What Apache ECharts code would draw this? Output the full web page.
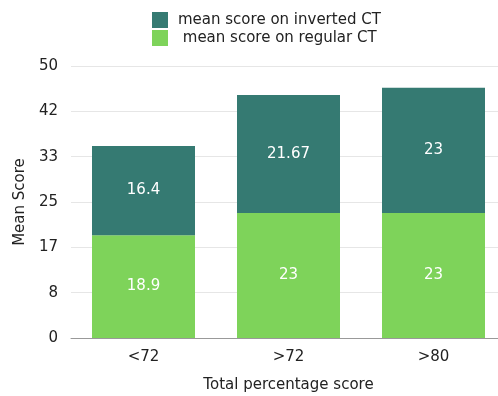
<!DOCTYPE html>
<html><head><meta charset="utf-8">
<script src="https://cdn.jsdelivr.net/npm/echarts@6/dist/echarts.min.js"></script>
<style>html,body{margin:0;padding:0;background:#fff}#c{width:498px;height:396px}</style>
</head><body><div id="c"></div>
<script>
var categories = ['<72', '>72', '>80'];
var regularScores = [18.9, 23, 23];
var invertedScores = [16.4, 21.67, 23];
var seriesNames = ['mean score on inverted CT', ' mean score on regular CT'];
var yTickLabels = ['0', '8', '17', '25', '33', '42', '50'];

var chart = echarts.init(document.getElementById('c'), null, {renderer: 'canvas'});
var font = '"DejaVu Sans", sans-serif';
var labelStyle = {show: true, position: 'inside', color: '#ffffff', fontSize: 15, fontFamily: font};
chart.setOption({
  animation: false,
  legend: {
    orient: 'vertical', left: 147, top: 7, itemWidth: 16, itemHeight: 16, itemGap: 2,
    icon: 'rect',
    textStyle: {fontSize: 15, color: '#222', fontFamily: font, padding: [0, 0, 0, 5]},
    data: [seriesNames[0], seriesNames[1]]
  },
  grid: {left: 71, width: 435, top: 66, bottom: 58, outerBoundsMode: 'none', containLabel: false},
  xAxis: {
    type: 'category', data: categories,
    name: 'Total percentage score', nameLocation: 'middle', nameGap: 40,
    nameTextStyle: {fontSize: 15, color: '#222', fontFamily: font},
    axisTick: {show: false},
    axisLine: {lineStyle: {color: '#999'}},
    axisLabel: {fontSize: 15, color: '#222', fontFamily: font, margin: 12}
  },
  yAxis: {
    type: 'value', min: 0, max: 50, interval: 50 / 6,
    name: 'Mean Score', nameLocation: 'middle', nameGap: 43,
    nameTextStyle: {fontSize: 15, color: '#222', fontFamily: font},
    axisLine: {show: false}, axisTick: {show: false},
    axisLabel: {fontSize: 15, color: '#222', fontFamily: font, margin: 13,
      formatter: function (v) { return yTickLabels[Math.round(v / (50 / 6))]; }},
    splitLine: {lineStyle: {color: '#e6e6e6'}}
  },
  series: [
    {name: seriesNames[1], type: 'bar', stack: 's', data: regularScores, barWidth: 103,
     itemStyle: {color: '#7ed35a'}, label: labelStyle},
    {name: seriesNames[0], type: 'bar', stack: 's', data: invertedScores, barWidth: 103,
     itemStyle: {color: '#357a72'}, label: labelStyle}
  ]
});
</script></body></html>
